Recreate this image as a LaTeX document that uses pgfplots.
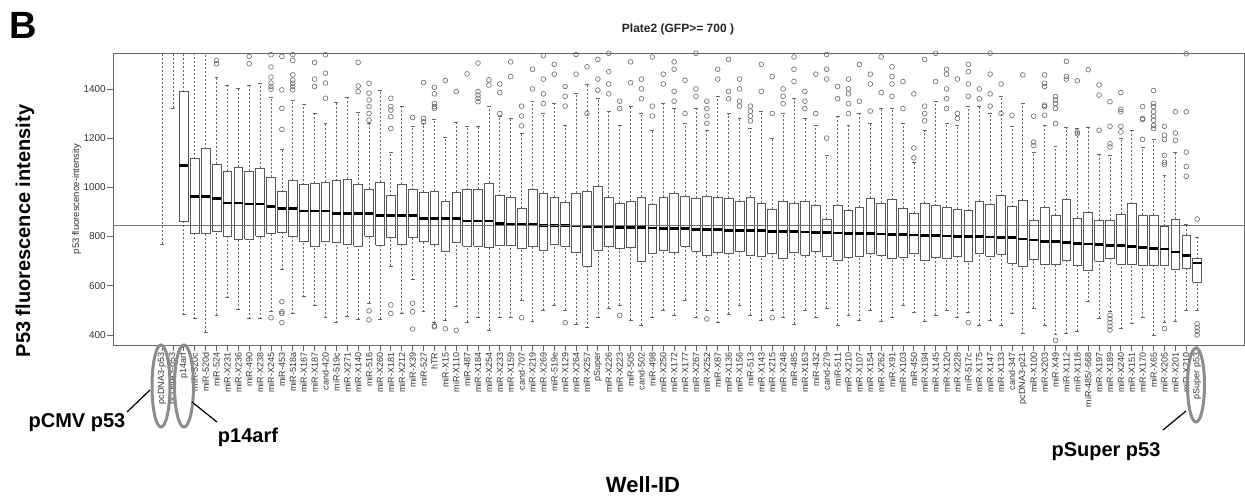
\documentclass[border=0pt]{standalone}
\usepackage{pgfplots}
\pgfplotsset{compat=1.18}
\usepackage{pgfplotstable}
\usepackage{fontspec}
\setmainfont{Liberation Sans}

% one row per well: lower whisker, lower quartile, median, upper quartile, upper whisker
\pgfplotstableread{
x lw q1 med q3 uw
1 770 1700 1900 2100 2500
2 1322 1700 1850 2000 2400
3 482 863 1089 1389 1700
4 466 811 964 1116 1545
5 412 812 964 1157 1550
6 481 820 956 1093 1448
7 552 800 936 1065 1416
8 502 790 936 1082 1403
9 466 789 932 1065 1416
10 466 802 932 1078 1423
11 494 812 921 1041 1367
12 665 815 914 983 1153
13 487 802 914 1030 1355
14 556 781 904 1011 1338
15 519 761 904 1016 1300
16 470 781 904 1020 1259
17 450 775 895 1027 1344
18 474 768 895 1034 1366
19 464 761 895 1014 1303
20 529 802 895 993 1259
21 464 765 884 1020 1396
22 679 795 884 966 1143
23 487 768 884 1014 1328
24 624 795 884 990 1248
25 494 781 874 980 1259
26 450 768 874 985 1276
27 460 740 874 945 1202
28 515 775 874 980 1266
29 453 761 863 990 1248
30 470 761 863 993 1248
31 419 754 863 1016 1330
32 470 765 852 966 1290
33 470 765 850 960 1280
34 540 750 849 915 1220
35 455 760 848 990 1350
36 500 745 846 975 1300
37 520 770 845 960 1340
38 500 760 844 940 1250
39 445 735 843 975 1380
40 430 680 842 985 1420
41 470 745 841 1005 1360
42 510 760 840 960 1310
43 520 750 838 935 1250
44 460 755 837 945 1330
45 440 700 836 960 1300
46 470 730 835 930 1230
47 500 745 834 960 1340
48 480 735 832 975 1320
49 540 760 831 965 1260
50 470 740 830 955 1320
51 500 725 829 965 1230
52 450 735 828 960 1370
53 485 730 826 955 1300
54 520 740 825 945 1280
55 480 725 824 960 1240
56 460 720 823 935 1310
57 500 730 822 910 1200
58 470 710 820 945 1300
59 445 735 819 935 1360
60 500 725 818 945 1280
61 470 740 817 925 1250
62 510 720 816 870 1130
63 440 705 814 925 1290
64 480 715 813 905 1250
65 460 720 812 920 1300
66 500 730 811 955 1260
67 455 725 810 935 1320
68 470 710 808 950 1320
69 520 715 807 915 1260
70 490 730 806 895 1100
71 455 705 805 935 1230
72 480 715 804 925 1350
73 500 710 802 920 1260
74 470 720 801 910 1250
75 490 700 800 905 1330
76 440 730 799 945 1330
77 460 720 798 930 1300
78 440 728 797 966 1370
79 487 692 795 922 1246
80 405 679 790 948 1341
81 508 706 786 867 1143
82 440 688 781 918 1252
83 401 688 779 887 1166
84 405 703 776 950 1243
85 415 683 773 874 1239
86 535 661 770 897 1243
87 467 699 768 866 1136
88 494 710 765 866 1130
89 426 688 762 890 1198
90 446 688 758 934 1232
91 470 683 755 888 1161
92 399 683 751 888 1194
93 453 683 749 843 1048
94 456 665 737 870 1143
95 501 672 724 806 850
96 501 614 692 710 795
}\boxdata

% outliers
\pgfplotstableread{
x y
6 1516
6 1502
9 1532
9 1502
11 1539
11 1489
11 1448
11 1424
11 1410
11 1399
11 470
12 1532
12 1396
12 1321
12 1235
12 535
12 494
12 487
12 450
13 1539
13 1516
13 1457
13 1436
13 1423
13 1410
13 1396
15 1508
15 1440
15 1410
16 1539
16 1464
16 1424
16 1362
19 1508
19 1412
19 1389
20 1423
20 1383
20 1355
20 1328
20 1300
20 1273
20 498
20 461
22 1362
22 1328
22 1314
22 1287
22 1239
22 522
22 487
24 1284
24 529
24 494
24 424
25 1426
25 1280
25 1266
26 1407
26 1380
26 1341
26 1328
26 1321
26 437
26 433
27 1434
27 425
28 1389
28 419
29 1461
30 1505
30 1389
30 1375
30 1362
30 1348
31 1437
31 1416
32 1420
32 1385
32 1300
33 1510
33 1450
34 1330
34 1290
34 1250
34 470
35 1480
35 1400
36 1535
36 1440
36 1380
36 1340
37 1500
37 1460
38 1410
38 1370
38 1330
38 450
39 1540
39 1460
40 1490
40 1300
41 1520
41 1440
41 1395
42 1545
42 1470
42 1420
42 1380
43 1350
43 1320
43 480
44 1510
44 1425
45 1440
45 1400
45 1360
46 1530
46 1330
46 1290
47 1460
47 1420
48 1510
48 1480
48 1390
48 1350
49 1435
49 1300
50 1545
50 1400
50 1370
51 1350
51 1320
51 1290
51 1260
51 465
52 1480
52 1440
53 1520
53 1390
53 1360
54 1440
54 1400
54 1350
54 1330
55 1330
55 1310
55 1290
55 1270
56 1500
56 1390
57 1450
57 1300
57 470
58 1400
58 1370
58 1340
59 1530
59 1480
59 1430
60 1390
60 1350
60 1320
61 1460
61 1300
62 1540
62 1480
62 1440
62 1200
63 1410
63 1360
64 1440
64 1400
64 1380
64 1340
64 1300
65 1500
65 1350
66 1460
66 1420
66 1310
67 1530
67 1385
68 1490
68 1450
68 1420
68 1370
69 1430
69 1320
70 1380
70 1160
70 1120
71 1520
71 1330
71 1300
71 1270
72 1545
72 1430
73 1480
73 1460
73 1400
73 1360
73 1320
74 1440
74 1300
74 1280
75 1500
75 1470
75 1420
75 1370
75 450
76 1400
76 1360
77 1545
77 1460
77 1380
77 1330
78 1420
78 1300
79 1293
80 1457
81 1289
81 1184
81 1170
82 1457
82 1423
82 1410
82 1334
82 1328
82 1293
83 1369
83 1355
83 1341
83 1321
83 1259
83 378
84 1512
84 1451
84 1440
85 1433
85 1225
85 1218
86 1478
87 1416
87 1375
87 1232
88 1348
88 1248
88 1177
88 1164
88 480
88 465
88 450
88 435
88 420
89 1385
89 1317
89 1307
89 1248
89 1225
91 1328
91 1280
91 1276
91 1195
92 1393
92 1341
92 1328
92 1307
92 1289
92 1273
92 1252
92 1239
93 1248
93 1212
93 1194
93 1130
93 1102
93 1093
93 426
94 1307
94 1221
94 1191
95 1543
95 1307
95 1143
95 1084
95 1045
96 871
96 445
96 430
96 415
96 400
}\outl

\tikzset{
  wsk/.style={black!60, line width=0.7pt, dash pattern=on 2pt off 2pt},
  stp/.style={black!60, line width=0.7pt},
  bx/.style={draw=black!65, fill=white, line width=0.7pt},
  md/.style={black, line width=2.8pt},
}

\begin{document}
\begin{tikzpicture}
\path[use as bounding box] (0pt,0pt) rectangle (1245pt,-496pt);
\begin{axis}[
    at={(113pt,-345pt)}, anchor=south west,
    scale only axis, width=1131pt, height=292pt,
    xmin=-3.5, xmax=100.3, ymin=359, ymax=1546,
    unbounded coords=jump,
    axis line style={black!60, line width=1pt},
    tick pos=left, tick align=outside,
    major tick length=6pt,
    tick style={black!60, line width=0.8pt},
    xtick={1,...,96},
    xticklabels={pcDNA3-p53, pcDNA3-p53, p14arf, miR-520c, miR-520d, miR-524, miR-X231, miR-X236, miR-490, miR-X238,
      miR-X245, miR-453, miR-518a, miR-X167, miR-X187, cand-420, miR-519c, miR-X271, miR-X140, miR-516,
      miR-X260, miR-X181, miR-X212, miR-X39, miR-527, hTR, miR-X15, miR-X110, miR-487, miR-X184,
      miR-X254, miR-X233, miR-X159, cand-707, miR-X219, miR-X269, miR-519e, miR-X129, miR-X264, miR-X257,
      pSuper, miR-X226, miR-X223, miR-505, cand-502, miR-498, miR-X250, miR-X172, miR-X177, miR-X267,
      miR-X252, miR-X87, miR-X136, miR-X156, miR-513, miR-X143, miR-X215, miR-X248, miR-485, miR-X163,
      miR-432, cand-279, miR-511, miR-X210, miR-X107, miR-X154, miR-X262, miR-X91, miR-X103, miR-450,
      miR-X194, miR-X145, miR-X120, miR-X228, miR-517c, miR-X175, miR-X147, miR-X133, cand-347, pcDNA3-p21,
      miR-X100, miR-X203, miR-X49, miR-X112, miR-X118, miR-485/-668, miR-X197, miR-X189, miR-X240, miR-X151,
      miR-X170, miR-X65, miR-X205, miR-X201, miR-X210, pSuper p53},
    xticklabel style={rotate=90, anchor=east, font=\fontsize{9}{9}\selectfont, text=black!80, inner sep=1.5pt},
    ytick={400,600,...,1400},
    yticklabel style={font=\fontsize{10}{10}\selectfont, text=black!80, inner sep=1pt},
    /pgf/number format/assume math mode=true,
    /pgf/number format/1000 sep={},
    ylabel={p53 fluorescence-intensity},
    ylabel style={font=\fontsize{9.5}{9.5}\selectfont, text=black!80, yshift=-2pt},
]
\pgfplotsforeachungrouped \i in {0,...,95}{
  \pgfplotstablegetelem{\i}{x}\of\boxdata \let\vx\pgfplotsretval
  \pgfplotstablegetelem{\i}{lw}\of\boxdata \let\vlw\pgfplotsretval
  \pgfplotstablegetelem{\i}{q1}\of\boxdata \let\vqa\pgfplotsretval
  \pgfplotstablegetelem{\i}{med}\of\boxdata \let\vmed\pgfplotsretval
  \pgfplotstablegetelem{\i}{q3}\of\boxdata \let\vqb\pgfplotsretval
  \pgfplotstablegetelem{\i}{uw}\of\boxdata \let\vuw\pgfplotsretval
  \pgfmathsetmacro\xl{\vx-0.4}
  \pgfmathsetmacro\xr{\vx+0.4}
  \pgfmathsetmacro\sl{\vx-0.18}
  \pgfmathsetmacro\sr{\vx+0.18}
  \edef\doplot{%
    \noexpand\addplot[wsk] coordinates {(\vx,\vlw) (\vx,\vqa) (\vx,nan) (\vx,\vqb) (\vx,\vuw)};
    \noexpand\addplot[stp] coordinates {(\sl,\vlw) (\sr,\vlw) (\vx,nan) (\sl,\vuw) (\sr,\vuw)};
    \noexpand\addplot[bx] coordinates {(\xl,\vqa) (\xr,\vqa) (\xr,\vqb) (\xl,\vqb) (\xl,\vqa)};
    \noexpand\addplot[md] coordinates {(\xl,\vmed) (\xr,\vmed)};
  }%
  \doplot
}
\addplot[only marks, mark=o, mark size=2.4pt, mark options={draw=black!60, line width=0.6pt}]
  table[x=x, y=y] {\outl};
\addplot[black!55, line width=1.2pt] coordinates {(-5,844) (105,844)};
\end{axis}

\node[font=\fontsize{38}{38}\selectfont\bfseries, anchor=base west, inner sep=0pt] at (9pt,-38pt) {B};
\node[font=\fontsize{12}{12}\selectfont\bfseries, text=black!85] at (678pt,-29pt) {Plate2 (GFP>= 700 )};
\node[rotate=90, font=\fontsize{20}{20}\selectfont\bfseries] at (25pt,-231pt) {P53 fluorescence intensity};
\node[font=\fontsize{22}{22}\selectfont\bfseries] at (643pt,-485pt) {Well-ID};

% highlighted wells
\draw[black!45, line width=3pt] (161pt,-386pt) ellipse [x radius=9pt, y radius=41pt];
\draw[black!45, line width=3pt] (184pt,-386pt) ellipse [x radius=9.5pt, y radius=41pt];
\draw[black!45, line width=3pt] (1196pt,-385pt) ellipse [x radius=8.5pt, y radius=37pt];
\draw[black, line width=1.2pt] (127pt,-412pt) -- (150pt,-390pt);
\draw[black, line width=1.2pt] (192pt,-402pt) -- (217pt,-422pt);
\draw[black, line width=1.2pt] (1163pt,-430pt) -- (1186pt,-411pt);
\node[font=\fontsize{20}{20}\selectfont\bfseries] at (77pt,-423pt) {pCMV p53};
\node[font=\fontsize{20}{20}\selectfont\bfseries] at (248pt,-437pt) {p14arf};
\node[font=\fontsize{20}{20}\selectfont\bfseries] at (1106pt,-452pt) {pSuper p53};
\end{tikzpicture}
\end{document}
